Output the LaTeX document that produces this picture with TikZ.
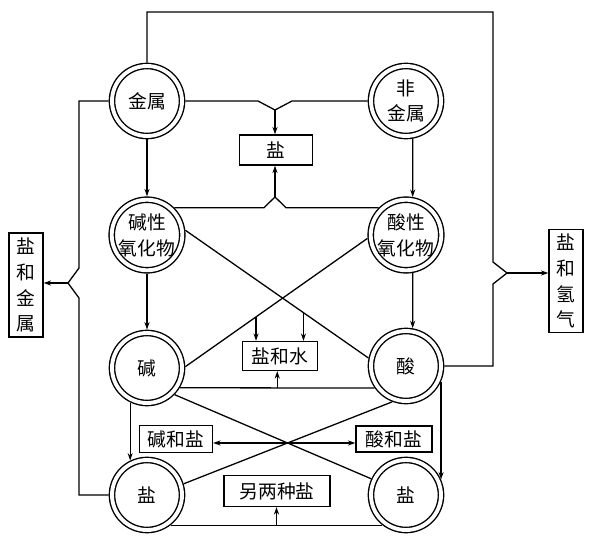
\documentclass[tikz,border=0pt]{standalone}
\usepackage{fontspec}
\setmainfont{Noto Sans CJK SC}
\usetikzlibrary{arrows.meta,calc,intersections}
\begin{document}
\begin{tikzpicture}[x=0.03cm,y=-0.03cm,line width=1.1pt,
  >={Stealth[length=2.2mm,width=1.5mm]},
  dc/.style={circle,draw,line width=1.2pt,double,double distance=3.3pt,
    minimum size=2.1cm,inner sep=0pt,outer sep=2.9pt,align=center,
    font=\fontsize{16pt}{22pt}\selectfont},
  bx/.style={draw,rectangle,inner sep=0pt,align=center,
    font=\fontsize{16pt}{22pt}\selectfont},
  vbx/.style={draw,rectangle,inner sep=0pt,align=center,
    minimum width=1.02cm,font=\fontsize{16pt}{22pt}\selectfont}]
\useasboundingbox (0,0) rectangle (591,541);
% circles
\node[dc] (jinshu) at (147,101) {金属};
\node[dc] (fei) at (406,101) {非\\金属};
\node[dc] (jyh) at (147,235) {碱性\\氧化物};
\node[dc] (syh) at (406,235) {酸性\\氧化物};
\node[dc] (jian) at (147,368) {碱};
\node[dc] (suan) at (406,366) {酸};
\node[dc] (yanL) at (147,495) {盐};
\node[dc] (yanR) at (406,495) {盐};
% boxes
\node[bx,minimum width=2.19cm,minimum height=0.9cm] (yanbox) at (276,150) {盐};
\node[bx,minimum width=2.25cm,minimum height=0.87cm] (shuibox) at (280,356) {盐和水};
\node[bx,minimum width=2.19cm,minimum height=0.81cm] (jyb) at (176,439) {碱和盐};
\node[bx,minimum width=2.28cm,minimum height=0.78cm] (syb) at (394,439) {酸和盐};
\node[bx,minimum width=3.18cm,minimum height=0.93cm] (lyb) at (277,491) {另两种盐};
\node[vbx,minimum height=3.12cm] (lbox) at (26,285) {盐\\和\\金\\属};
\node[vbx,minimum height=3.09cm] (rbox) at (566,281) {盐\\和\\氢\\气};
% vertical arrows
\draw[->] (jinshu) -- (jyh);
\draw[->] (jyh) -- (jian);
\draw[->] (fei.-80) -- (syh.80);
\draw[->] (syh.-80) -- (suan.80);
\draw[->] (jian.-116) -- (yanL.116);
\draw[->] (suan.-24) -- (yanR.24);
% top merge to salt
\coordinate (tm) at (275,110);
\draw (jinshu.east) -- (258,101) -- (tm) -- (292,101) -- (fei.west);
\draw[->] (tm) -- (tm |- yanbox.north);
% bottom merge to salt
\coordinate (bm) at (275,197);
\coordinate (bl) at (264,0);
\coordinate (br) at (286,0);
\draw (jyh.45) -- (jyh.45 -| bl) -- (bm) -- (syh.135 -| br) -- (syh.135);
\draw[->] (bm) -- (bm |- yanbox.south);
% middle cross
\draw (jyh.7) -- (suan.168);
\draw (syh.185) -- (jian.2);
\coordinate (a1) at ($(syh.185)!0.612!(jian.2)$);
\coordinate (a2) at ($(jyh.7)!0.645!(suan.168)$);
\draw[->] (a1) -- (a1 |- shuibox.north);
\draw[->] (a2) -- (a2 |- shuibox.north);
\draw (jian.-31.5) -- (suan.215);
\coordinate (a3) at ($(jian.-31.5)!0.5!(suan.215)$);
\draw[->] (a3) -- (a3 |- shuibox.south);
% lower cross
\draw[name path=l1] (jian.-44) -- (yanR.155);
\draw[name path=l2] (suan.249) -- (yanL.17);
\path[name intersections={of=l1 and l2, by=xc}];
\draw[->] (xc) -- (xc -| jyb.east);
\draw[->] (xc) -- (xc -| syb.west);
% bottom line
\draw (yanL.-52) -- (yanR.-128);
\coordinate (a4) at ($(yanL.-52)!0.5!(yanR.-128)$);
\draw[->] (a4) -- (a4 |- lyb.south);
% left bracket
\coordinate (lb1) at (79,268);
\coordinate (lbp) at (68,283);
\coordinate (lb2) at (79,298);
\draw (jinshu.west) -| (lb1) -- (lbp) -- (lb2) |- (yanL.west);
\draw[->] (lbp) -- (lbp -| lbox.east);
% right bracket
\coordinate (rt) at (493,12);
\coordinate (rb1) at (493,262);
\coordinate (rbp) at (507,273);
\coordinate (rb2) at (493,284);
\draw (jinshu.north) |- (rt) -- (rb1) -- (rbp) -- (rb2) |- (suan.east);
\draw[->] (rbp) -- (rbp -| rbox.west);
\end{tikzpicture}
\end{document}
